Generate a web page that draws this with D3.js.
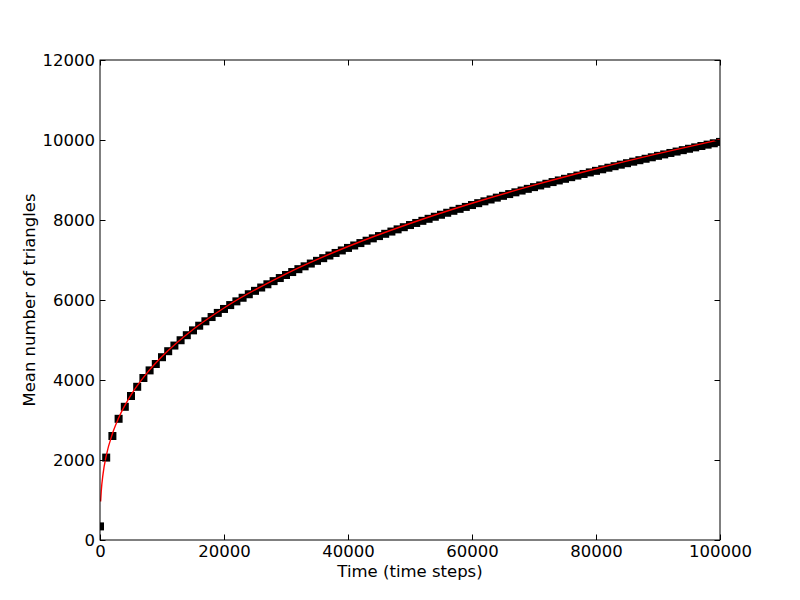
<!DOCTYPE html>
<html>
<head>
<meta charset="utf-8">
<script src="https://cdn.jsdelivr.net/npm/d3@7"></script>
<style>
  body { margin: 0; background: #fff; }
  svg { display: block; }
  text { font-family: "DejaVu Sans", sans-serif; fill: #000; }
</style>
</head>
<body>
<svg id="chart" width="800" height="600"></svg>
<script>
// ---- data ----
const markerTimes = d3.range(0, 100001, 1000);
const markerValues = [
  340, 2060, 2600, 3030, 3330, 3600, 3830, 4050, 4240, 4400,
  4570, 4720, 4861, 4994, 5120, 5241, 5357, 5468, 5574, 5677,
  5776, 5873, 5966, 6056, 6144, 6229, 6312, 6393, 6472, 6549,
  6625, 6699, 6771, 6842, 6911, 6979, 7046, 7112, 7176, 7239,
  7302, 7363, 7423, 7482, 7541, 7598, 7655, 7711, 7766, 7820,
  7874, 7926, 7979, 8030, 8081, 8131, 8181, 8230, 8279, 8327,
  8374, 8421, 8467, 8513, 8559, 8604, 8648, 8692, 8736, 8779,
  8822, 8864, 8906, 8948, 8989, 9030, 9071, 9111, 9151, 9190,
  9229, 9268, 9307, 9345, 9383, 9420, 9458, 9495, 9531, 9568,
  9604, 9640, 9676, 9711, 9746, 9781, 9816, 9850, 9884, 9918,
  9952
];
const fitTimes  = [100, 200, 500, 1000, 2000, 3000, 5000, 7500, 10000, 15000, 20000, 30000, 40000, 50000, 60000, 70000, 80000, 90000, 100000];
const fitValues = [961, 1217, 1661, 2101, 2657, 3048, 3626, 4160, 4585, 5262, 5800, 6654, 7337, 7913, 8418, 8870, 9280, 9658, 10009];
const xTicks = [0, 20000, 40000, 60000, 80000, 100000];
const yTicks = [0, 2000, 4000, 6000, 8000, 10000, 12000];
const xLabel = "Time (time steps)";
const yLabel = "Mean number of triangles";

// ---- layout ----
const svg = d3.select("#chart");
const L = 100, R = 720, T = 60, B = 540;
const fs = 16.5;
const x = d3.scaleLinear().domain([0, 100000]).range([L, R]);
const y = d3.scaleLinear().domain([0, 12000]).range([B, T]);

svg.append("defs").append("clipPath").attr("id", "clip")
  .append("rect").attr("x", L).attr("y", T).attr("width", R - L).attr("height", B - T);

const plot = svg.append("g").attr("clip-path", "url(#clip)");

// markers
const ms = 8;
plot.selectAll("rect.m").data(markerTimes.map((t, i) => [t, markerValues[i]]))
  .enter().append("rect").attr("class", "m")
  .attr("x", d => x(d[0]) - ms / 2)
  .attr("y", d => y(d[1]) - ms / 2)
  .attr("width", ms).attr("height", ms)
  .attr("fill", "#000");

// fit line
const line = d3.line().x(d => x(d[0])).y(d => y(d[1])).curve(d3.curveMonotoneX);
plot.append("path")
  .datum(fitTimes.map((t, i) => [t, fitValues[i]]))
  .attr("d", line)
  .attr("fill", "none").attr("stroke", "#ff0000").attr("stroke-width", 1.4);

// axes (ticks inward, on all four sides)
const tl = 5.5;
const fmt = d3.format("d");
const gx = svg.append("g").attr("transform", `translate(0,${B})`)
  .call(d3.axisBottom(x).tickValues(xTicks).tickSizeInner(-tl).tickSizeOuter(0).tickPadding(5).tickFormat(fmt));
const gxt = svg.append("g").attr("transform", `translate(0,${T})`)
  .call(d3.axisTop(x).tickValues(xTicks).tickSizeInner(-tl).tickSizeOuter(0).tickFormat(""));
const gy = svg.append("g").attr("transform", `translate(${L},0)`)
  .call(d3.axisLeft(y).tickValues(yTicks).tickSizeInner(-tl).tickSizeOuter(0).tickPadding(5).tickFormat(fmt));
const gyr = svg.append("g").attr("transform", `translate(${R},0)`)
  .call(d3.axisRight(y).tickValues(yTicks).tickSizeInner(-tl).tickSizeOuter(0).tickFormat(""));

[gx, gxt, gy, gyr].forEach(g => {
  g.select(".domain").remove();
  g.selectAll("line").attr("stroke", "#000").attr("stroke-width", 1);
  g.selectAll("text").attr("font-family", "DejaVu Sans").attr("font-size", fs).attr("fill", "#000");
});

// frame
svg.append("rect").attr("x", L).attr("y", T).attr("width", R - L).attr("height", B - T)
  .attr("fill", "none").attr("stroke", "#000").attr("stroke-width", 1);

// axis labels
svg.append("text").attr("x", (L + R) / 2).attr("y", 577)
  .attr("text-anchor", "middle").attr("font-size", fs).text(xLabel);
svg.append("text").attr("transform", `translate(35,${(T + B) / 2}) rotate(-90)`)
  .attr("text-anchor", "middle").attr("font-size", fs).text(yLabel);
</script>
</body>
</html>
